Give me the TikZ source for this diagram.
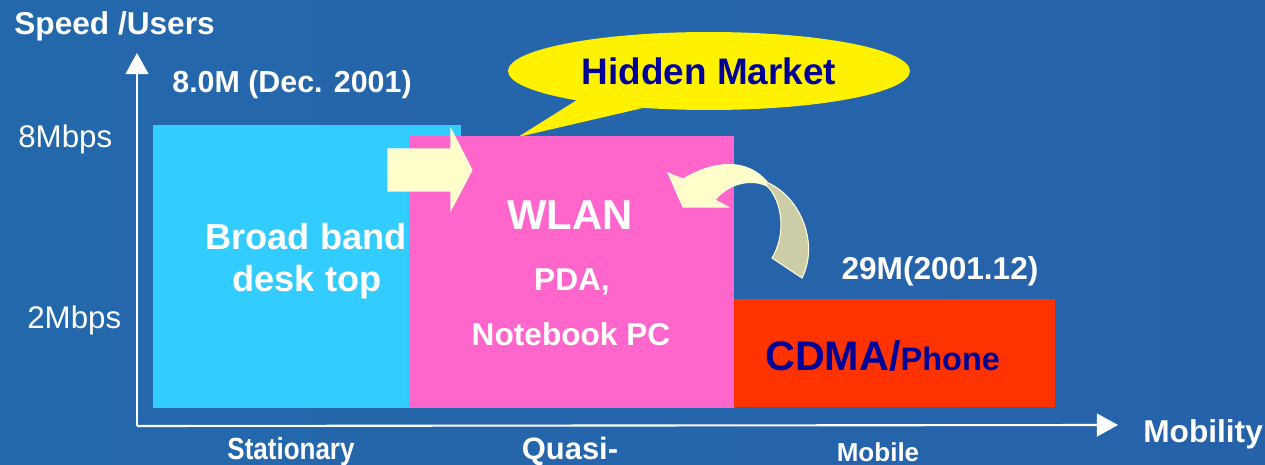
\documentclass[tikz,border=0pt]{standalone}
\usepackage{fontspec}
\setmainfont{Liberation Sans}
\usepackage{tikz}
\usetikzlibrary{arrows.meta,shapes.geometric}

\definecolor{bgleft}{RGB}{36,104,172}
\definecolor{bgmid}{RGB}{28,76,154}
\definecolor{bgright}{RGB}{38,98,170}
\definecolor{cyanbox}{RGB}{51,204,255}
\definecolor{pinkbox}{RGB}{255,102,204}
\definecolor{redbox}{RGB}{255,51,0}
\definecolor{cream}{RGB}{255,255,204}
\definecolor{tan}{RGB}{204,204,166}
\definecolor{navy}{RGB}{0,0,153}

\tikzset{
  axis/.style={draw=white, line width=1.2pt, -{Triangle[length=12pt,width=13pt]}},
  lbl/.style={text=white, inner sep=0pt, font=\bfseries\fontsize{18}{21}\selectfont},
  tick/.style={text=white, inner sep=0pt, font=\fontsize{17.8}{21}\selectfont},
  ribbon/.style={draw=white!85!yellow, line width=0.6pt}
}

\begin{document}
\begin{tikzpicture}[x=0.02cm,y=-0.02cm]
        \useasboundingbox (0,0) rectangle (1265,465);
        \shade[left color=bgleft, middle color=bgmid, right color=bgright] (0,0) rectangle (1265,465);

        \coordinate (origin) at (137,426);
        \coordinate (ytop) at (137,53);
        \coordinate (xend) at (1118,425);
        \draw[axis] (origin) -- (ytop);
        \draw[axis] (origin) -- (xend);

        \fill[cyanbox] (153,125) rectangle (461,408);
        \fill[yellow] (577,100) -- (518,137) -- (643,108) -- cycle;
        \fill[pinkbox] (409,136) rectangle (734,408);
        \fill[redbox] (734,299) rectangle (1055,407);

        \fill[cream, ribbon] (388,149) -- (451,149) -- (451,129) -- (472,170)
                -- (451,210) -- (451,191) -- (388,191) -- cycle;

        \fill[cream, ribbon] (668,173) -- (683,179) .. controls (715,160) and (748,158) .. (768,183)
                -- (767,186) .. controls (750,178) and (728,184) .. (715,200)
                -- (728,207) -- (683,207) -- cycle;
        \fill[tan, ribbon] (766,182) .. controls (799,195) and (820,242) .. (802,278)
                -- (772,258) .. controls (786,235) and (783,202) .. (767,186) -- cycle;

        \node[ellipse, fill=yellow, inner sep=0pt, minimum width=8.04cm, minimum height=1.56cm,
              text=navy, font=\bfseries\fontsize{21}{24}\selectfont] (hidden) at (709,71) {Hidden Market};

        \node[lbl, anchor=base west] (speed) at (14,35) {Speed /Users};
        \node[lbl, anchor=base west, font=\bfseries\fontsize{17.3}{20}\selectfont] (dec) at (172,93) {8.0M (Dec. 2001)};
        \node[tick, anchor=base west] (eight) at (18,148) {8Mbps};
        \node[tick, anchor=base west] (two) at (27,329) {2Mbps};

        \node[lbl, anchor=base, font=\bfseries\fontsize{20.6}{24}\selectfont] (broad) at (306,250) {Broad band};
        \node[lbl, anchor=base, font=\bfseries\fontsize{20.6}{24}\selectfont] (desk) at (307,292) {desk top};

        \node[lbl, anchor=base, font=\bfseries\fontsize{23.8}{28}\selectfont] (wlan) at (570,230) {WLAN};
        \node[lbl, anchor=base] (pda) at (572,291) {PDA,};
        \node[lbl, anchor=base] (note) at (571,346) {Notebook PC};

        \node[lbl, anchor=base] (users) at (940,280) {29M(2001.12)};
        \node[lbl, anchor=base west, text=navy] (cdma) at (765,371)
              {{\fontsize{23.5}{28}\selectfont CDMA/}{\fontsize{18.5}{22}\selectfont Phone}};

        \node[lbl, anchor=base, xscale=0.85, font=\bfseries\fontsize{17.4}{21}\selectfont] (stat) at (291,460) {Stationary};
        \node[lbl, anchor=base, font=\bfseries\fontsize{17.6}{21}\selectfont] (quasi) at (570,460) {Quasi-};
        \node[lbl, anchor=base, font=\bfseries\fontsize{14.8}{18}\selectfont] (mobile) at (878,462) {Mobile};
        \node[lbl, anchor=base west] (mobility) at (1143,443) {Mobility};
\end{tikzpicture}
\end{document}
